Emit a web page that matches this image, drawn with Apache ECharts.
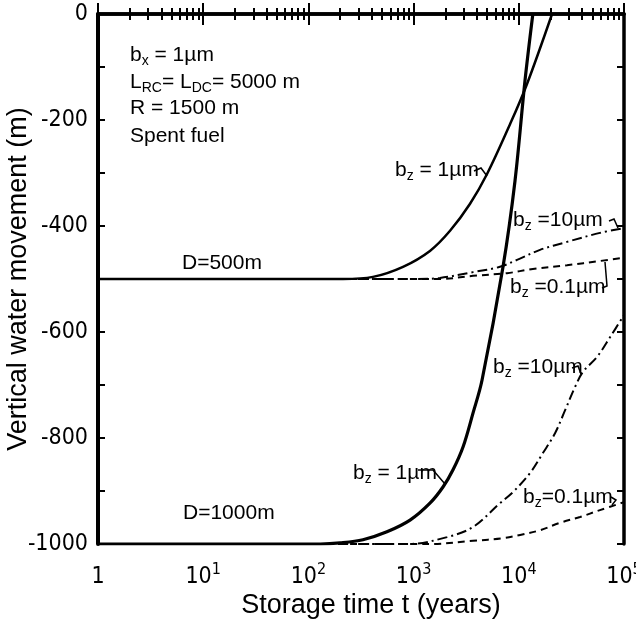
<!DOCTYPE html>
<html>
<head>
<meta charset="utf-8">
<title>Vertical water movement</title>
<script src="https://cdn.jsdelivr.net/npm/echarts@6/dist/echarts.min.js"></script>
<style>
  html, body { margin: 0; padding: 0; background: #fff; }
  #main { width: 636px; height: 623px; }
</style>
</head>
<body>
<div id="main"></div>
<script>
// storage time (years) and vertical water movement (m)
// D = 500 m
const tD500Bz1 = [1, 100, 213, 411, 793, 1430, 2220, 3440, 4990, 8250, 11970, 20700];
const vD500Bz1 = [-500, -500, -500, -496, -477, -447, -409, -358, -302, -208, -132, 0];
const tD500Bz10 = [1, 100, 1000, 1780, 3670, 6620, 9620, 15900, 28700, 59100, 100000];
const vD500Bz10 = [-500, -500, -500, -498, -487, -477, -464, -445, -430, -413, -404];
const tD500Bz01 = [1, 100, 1000, 1780, 3670, 7730, 13600, 28700, 59100, 100000];
const vD500Bz01 = [-500, -500, -500, -500, -494, -489, -481, -474, -466, -460];
// D = 1000 m
const tD1000Bz1 = [1, 130, 200, 330, 558, 925, 1430, 1910, 2370, 2950, 3670, 4470, 7080, 9200, 11450, 13600];
const vD1000Bz1 = [-1000, -1000, -998, -992, -977, -955, -923, -892, -860, -817, -753, -691, -477, -315, -126, 0];
const tD1000Bz10 = [1, 900, 2080, 3670, 6620, 8810, 12800, 17000, 22100, 27500, 34200, 40800, 55400, 73600, 100000];
const vD1000Bz10 = [-1000, -1000, -987, -968, -923, -902, -866, -828, -791, -748, -704, -675, -647, -610, -568];
const tD1000Bz01 = [1, 1430, 3670, 7080, 10300, 15900, 24600, 38200, 59100, 100000];
const vD1000Bz01 = [-1000, -1000, -994, -989, -983, -974, -960, -949, -936, -921];

// axis ticks
const decades = [1, 10, 100, 1000, 10000];
const minorSteps = [2, 3, 4, 5, 6, 7, 8, 9];
const minorTicks = [];
decades.forEach(function (d) {
  minorSteps.forEach(function (s) { minorTicks.push(d * s); });
});

const tickFont = "'Liberation Sans Narrow', 'DejaVu Sans Condensed', sans-serif";
const textFont = "'Liberation Sans', Arial, sans-serif";

function pairs(t, v) {
  return t.map(function (x, i) { return [x, v[i]]; });
}

function curve(name, t, v, width, dash) {
  return {
    name: name,
    type: 'line',
    xAxisIndex: 0,
    yAxisIndex: 0,
    data: pairs(t, v),
    showSymbol: false,
    smooth: 0.35,
    lineStyle: { color: '#000', width: width, type: dash || 'solid' }
  };
}

const richNote = {
  s: { fontSize: 14, fontFamily: textFont, lineHeight: 14, padding: [10, 0, 0, 0], verticalAlign: 'top' }
};

function note(x, y, text) {
  return {
    type: 'text',
    x: x,
    y: y,
    style: {
      text: text,
      fontSize: 21,
      fontFamily: textFont,
      fill: '#000',
      textVerticalAlign: 'middle',
      rich: richNote
    }
  };
}

function hook(points) {
  return {
    type: 'polyline',
    shape: { points: points },
    style: { stroke: '#000', lineWidth: 1.5, fill: null }
  };
}

function xAxisBase(position, major) {
  return {
    type: 'log',
    logBase: 10,
    min: 1,
    max: 100000,
    position: position,
    axisLine: { show: major, lineStyle: { color: '#000', width: 3.5 } },
    axisTick: major
      ? { inside: true, length: 11, lineStyle: { color: '#000', width: 2 } }
      : { inside: true, length: 6, customValues: minorTicks, lineStyle: { color: '#000', width: 2 } },
    axisLabel: { show: false },
    splitLine: { show: false }
  };
}

const bottomAxis = xAxisBase('bottom', true);
bottomAxis.name = 'Storage time t (years)';
bottomAxis.nameLocation = 'middle';
bottomAxis.nameGap = 48;
bottomAxis.nameMoveOverlap = false;
bottomAxis.nameTextStyle = { fontSize: 27, fontFamily: textFont, color: '#000', padding: [0, 0, 0, 20] };
bottomAxis.axisLabel = {
  show: true,
  margin: 18,
  color: '#000',
  fontSize: 23,
  fontFamily: tickFont,
  lineHeight: 30,
  formatter: function (v) {
    if (v === 1) return '1';
    return '10{sup|' + Math.round(Math.log10(v)) + '}';
  },
  rich: {
    sup: { fontSize: 16, fontFamily: tickFont, lineHeight: 15, verticalAlign: 'top', color: '#000' }
  }
};

const chart = echarts.init(document.getElementById('main'));

chart.setOption({
  backgroundColor: '#fff',
  animation: false,
  grid: { left: 98, right: 12, top: 14, bottom: 79, containLabel: false, outerBoundsMode: 'none' },
  xAxis: [
    bottomAxis,
    xAxisBase('bottom', false),
    xAxisBase('top', true),
    xAxisBase('top', false)
  ],
  yAxis: [
    {
      type: 'value',
      min: -1000,
      max: 0,
      interval: 100,
      position: 'left',
      name: 'Vertical water movement (m)',
      nameLocation: 'middle',
      nameGap: 66,
      nameMoveOverlap: false,
      nameTextStyle: { fontSize: 27, fontFamily: textFont, color: '#000' },
      axisLine: { show: true, lineStyle: { color: '#000', width: 4 } },
      axisTick: { inside: true, length: 7, lineStyle: { color: '#000', width: 2 } },
      axisLabel: {
        margin: 10,
        color: '#000',
        fontSize: 23,
        fontFamily: tickFont,
        formatter: function (v) { return v % 200 === 0 ? String(v) : ''; }
      },
      splitLine: { show: false }
    },
    {
      type: 'value',
      min: -1000,
      max: 0,
      interval: 100,
      position: 'right',
      axisLine: { show: true, lineStyle: { color: '#000', width: 3.5 } },
      axisTick: { inside: true, length: 7, lineStyle: { color: '#000', width: 2 } },
      axisLabel: { show: false },
      splitLine: { show: false }
    }
  ],
  series: [
    curve('D=500m bz=1', tD500Bz1, vD500Bz1, 2.5),
    curve('D=500m bz=10', tD500Bz10, vD500Bz10, 2, [10, 4, 2, 4]),
    curve('D=500m bz=0.1', tD500Bz01, vD500Bz01, 2, [7, 5]),
    curve('D=1000m bz=1', tD1000Bz1, vD1000Bz1, 3.2),
    curve('D=1000m bz=10', tD1000Bz10, vD1000Bz10, 2, [10, 4, 2, 4]),
    curve('D=1000m bz=0.1', tD1000Bz01, vD1000Bz01, 2, [7, 5])
  ],
  graphic: [
    note(130, 55, 'b{s|x} = 1µm'),
    note(130, 82, 'L{s|RC}= L{s|DC}= 5000 m'),
    note(130, 108, 'R = 1500 m'),
    note(130, 136, 'Spent fuel'),
    note(395, 170, 'b{s|z} = 1µm'),
    note(513, 220, 'b{s|z} =10µm'),
    note(182, 263, 'D=500m'),
    note(510, 287, 'b{s|z} =0.1µm'),
    note(493, 367, 'b{s|z} =10µm'),
    note(353, 473, 'b{s|z} = 1µm'),
    note(183, 513, 'D=1000m'),
    note(523, 497, 'b{s|z}=0.1µm'),
    // leader hooks from labels to curves
    hook([[474, 171], [481, 168], [487, 176]]),
    hook([[609, 221], [614, 219], [618, 228]]),
    hook([[602, 288], [607, 286], [605, 262]]),
    hook([[572, 368], [578, 366], [581, 374]]),
    hook([[418, 470], [433, 470], [445, 484]]),
    hook([[611, 497], [616, 500], [612, 505]])
  ]
});
</script>
</body>
</html>
